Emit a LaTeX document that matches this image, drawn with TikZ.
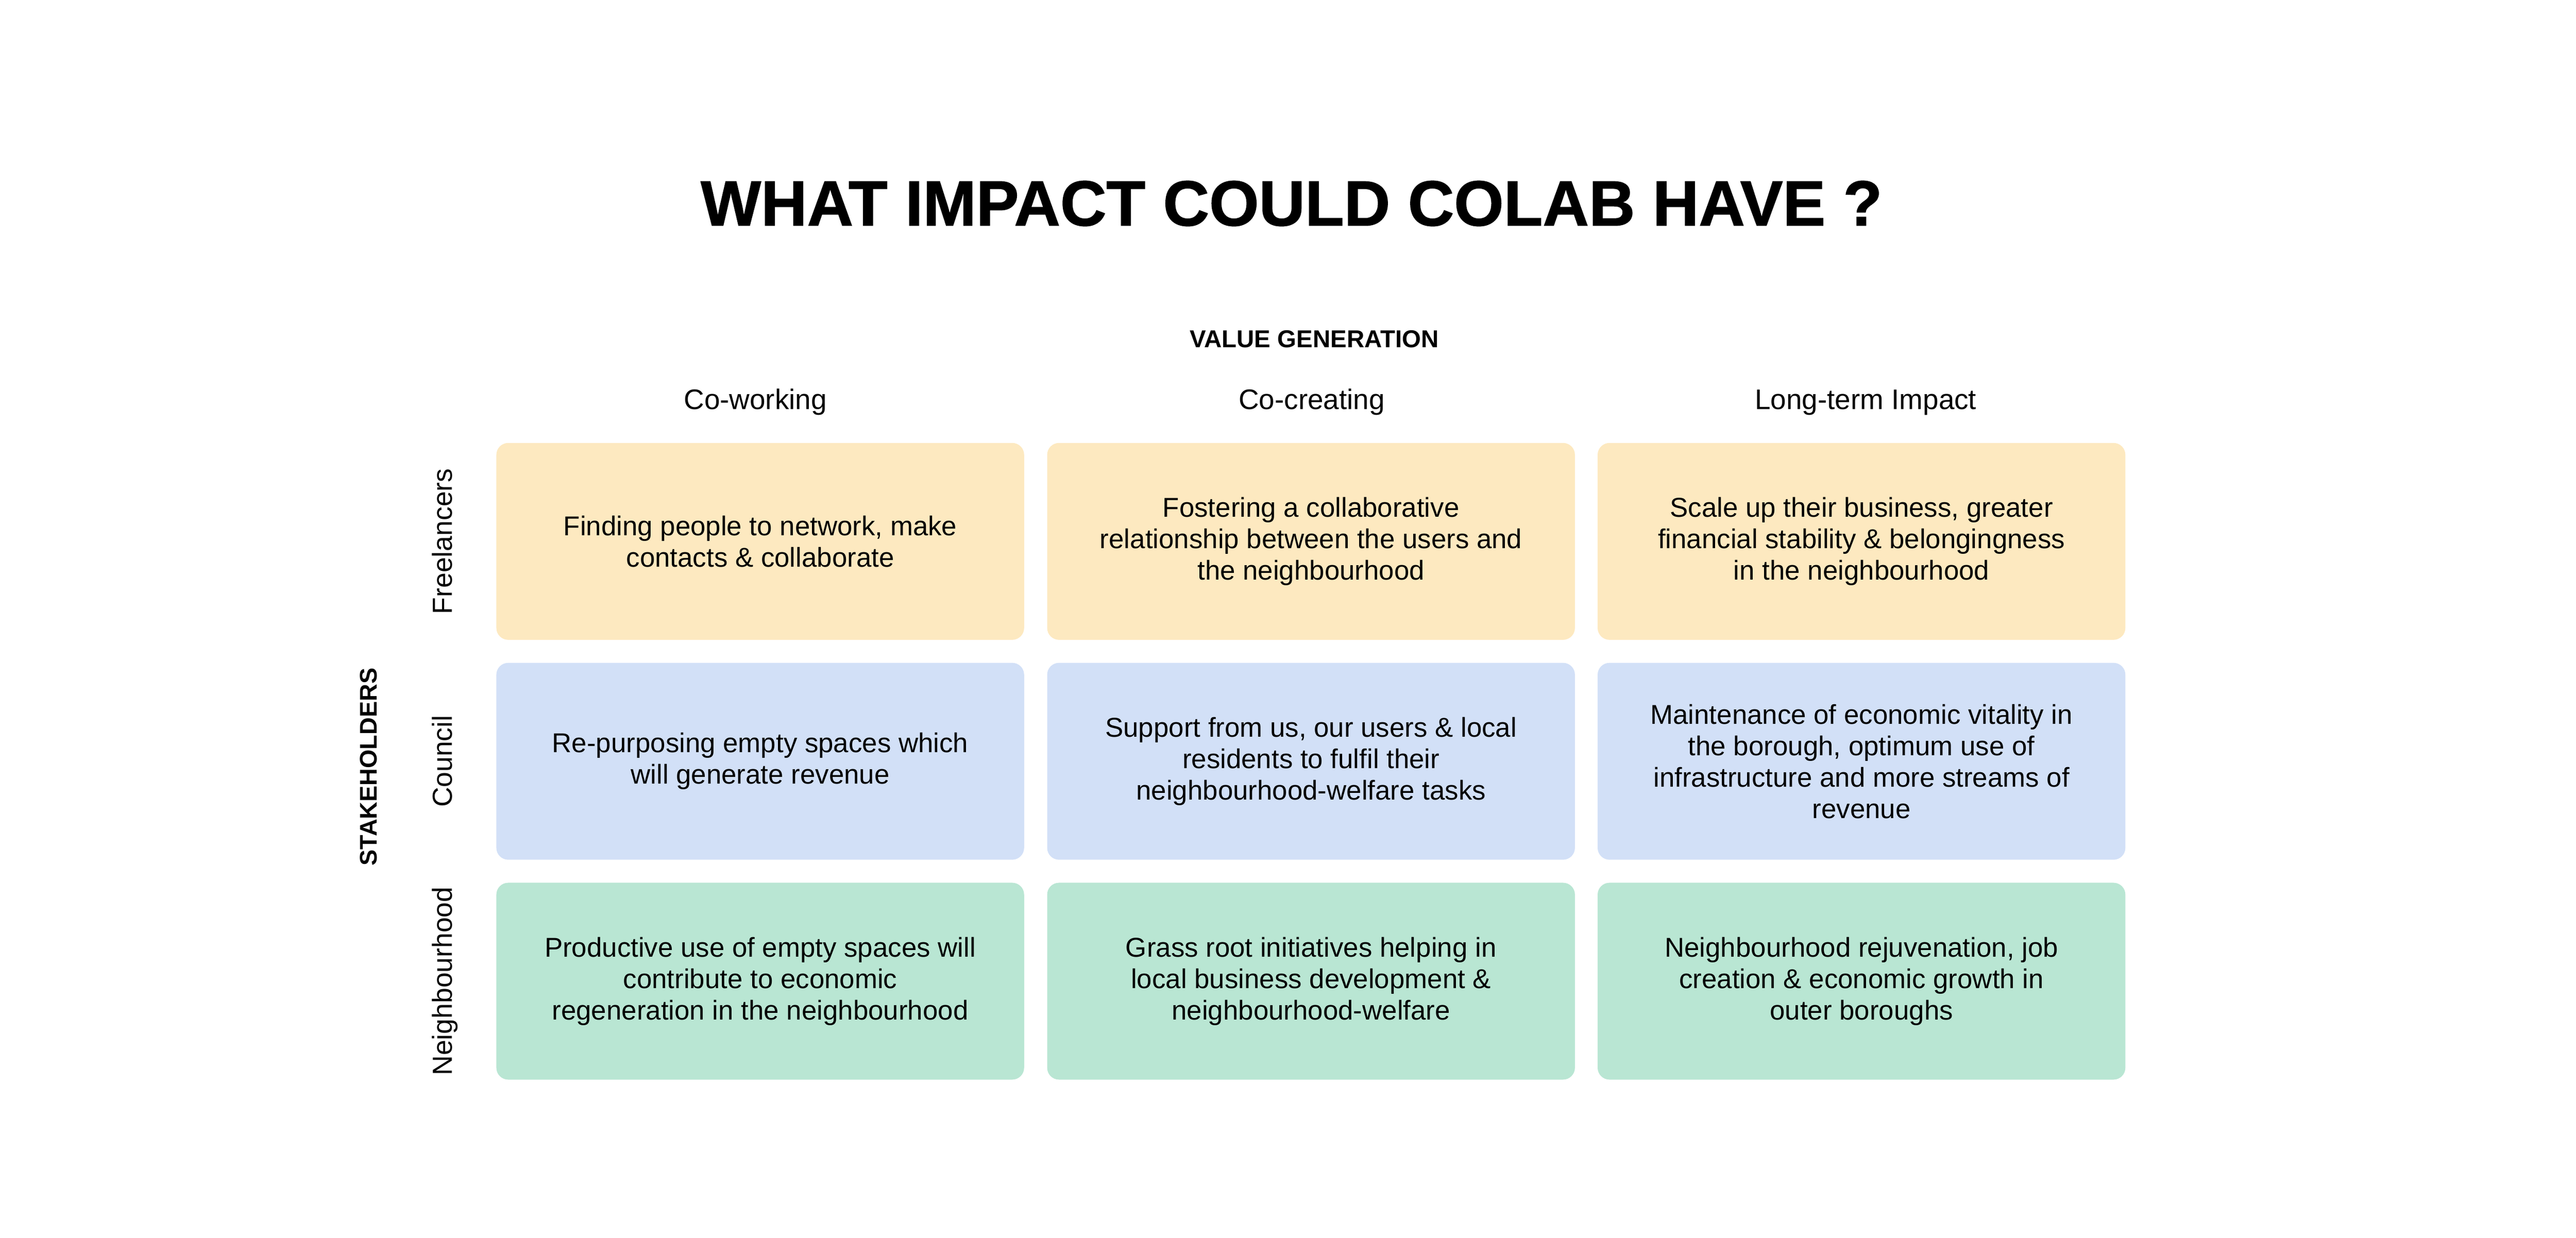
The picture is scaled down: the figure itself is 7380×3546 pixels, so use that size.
\documentclass[tikz,border=0pt]{standalone}
\usepackage{fontspec}
\setmainfont{Liberation Sans}
\newfontfamily\titlefont[FakeBold=1.2]{Liberation Sans Bold}
\definecolor{cyel}{HTML}{FDE9C0}
\definecolor{cblu}{HTML}{D2E0F7}
\definecolor{cgrn}{HTML}{B9E6D3}
\tikzset{
  cell/.style={rectangle, rounded corners=3.4pt, minimum width=151.2pt, minimum height=56.4pt,
    inner sep=0pt, align=center, text=black, font=\fontsize{7.8pt}{9pt}\selectfont},
  yelcell/.style={cell, fill=cyel},
  blucell/.style={cell, fill=cblu},
  grncell/.style={cell, fill=cgrn},
  colhead/.style={anchor=base, font=\fontsize{8.1pt}{9pt}\selectfont},
  rowhead/.style={anchor=base, rotate=90, font=\fontsize{7.9pt}{9pt}\selectfont},
}
\begin{document}
\begin{tikzpicture}[x=0.1pt,y=-0.1pt]
\useasboundingbox[fill=white] (0,0) rectangle (7380,3546);

\node[anchor=base, font=\titlefont\fontsize{18.3pt}{20pt}\selectfont] (title) at (3700,646) {WHAT IMPACT COULD COLAB HAVE ?};
\node[anchor=base, font=\bfseries\fontsize{7pt}{8pt}\selectfont] (vg) at (3765,995) {VALUE GENERATION};

\node[colhead] (h1) at (2164,1172) {Co-working};
\node[colhead] (h2) at (3758,1172) {Co-creating};
\node[colhead] (h3) at (5345,1172) {Long-term Impact};

\node[rowhead] (r1) at (1295,1551) {Freelancers};
\node[rowhead] (r2) at (1295,2181) {Council};
\node[rowhead] (r3) at (1295,2811) {Neighbourhood};
\node[anchor=base, rotate=90, font=\bfseries\fontsize{6.9pt}{8pt}\selectfont] (sh) at (1080,2197) {STAKEHOLDERS};

\node[yelcell] (c11) at (2178,1551) {Finding people to network, make\\contacts \& collaborate};
\node[yelcell] (c12) at (3756,1551) {Fostering a collaborative\\relationship between the users and\\the neighbourhood};
\node[yelcell] (c13) at (5333,1551) {Scale up their business, greater\\financial stability \& belongingness\\in the neighbourhood};

\node[blucell] (c21) at (2178,2181) {Re-purposing empty spaces which\\will generate revenue};
\node[blucell] (c22) at (3756,2181) {Support from us, our users \& local\\residents to fulfil their\\neighbourhood-welfare tasks};
\node[blucell] (c23) at (5333,2181) {Maintenance of economic vitality in\\the borough, optimum use of\\infrastructure and more streams of\\revenue};

\node[grncell] (c31) at (2178,2811) {Productive use of empty spaces will\\contribute to economic\\regeneration in the neighbourhood};
\node[grncell] (c32) at (3756,2811) {Grass root initiatives helping in\\local business development \&\\neighbourhood-welfare};
\node[grncell] (c33) at (5333,2811) {Neighbourhood rejuvenation, job\\creation \& economic growth in\\outer boroughs};
\end{tikzpicture}
\end{document}
